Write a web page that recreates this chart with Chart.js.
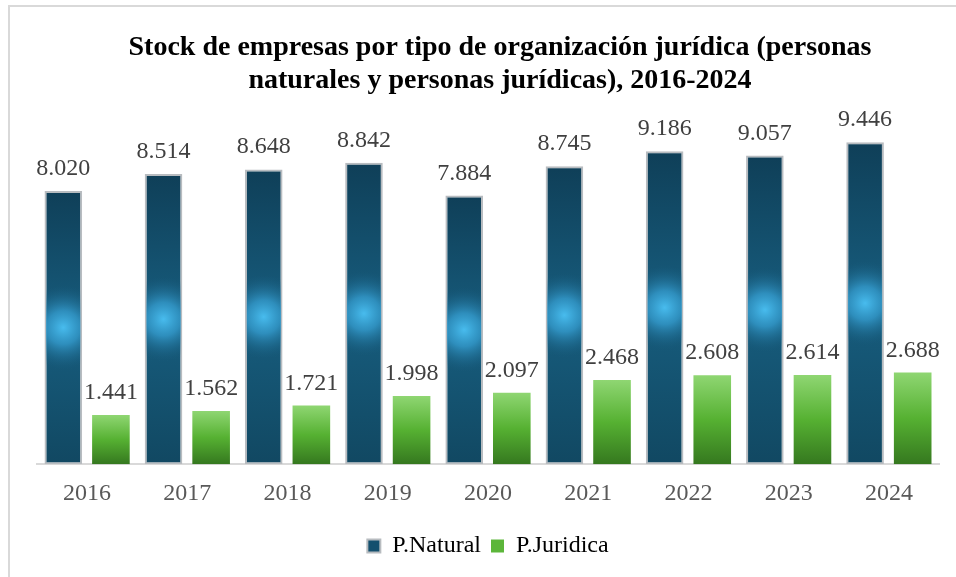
<!DOCTYPE html>
<html>
<head>
<meta charset="utf-8">
<script src="https://cdn.jsdelivr.net/npm/chart.js@4/dist/chart.umd.min.js"></script>
<style>
  html, body { margin: 0; padding: 0; background: #fff; overflow: hidden; }
  #frame { position: absolute; left: 8px; top: 5px; width: 2000px; height: 2000px;
           border-left: 2px solid #d9d9d9; border-top: 2px solid #d9d9d9; }
  #wrap { position: absolute; left: 0; top: 0; width: 956px; height: 577px; }
</style>
</head>
<body>
<div id="frame"></div>
<div id="wrap"><canvas id="stockChart" width="956" height="577"></canvas></div>
<script>
const years = ['2016', '2017', '2018', '2019', '2020', '2021', '2022', '2023', '2024'];
const personaNatural = [8020, 8514, 8648, 8842, 7884, 8745, 9186, 9057, 9446];
const personaJuridica = [1441, 1562, 1721, 1998, 2097, 2468, 2608, 2614, 2688];
const seriesNames = ['P.Natural', 'P.Juridica'];

const serif = '"Liberation Serif", "Times New Roman", serif';

function fmt(v) {
    return String(v).replace(/\B(?=(\d{3})+(?!\d))/g, '.');
}

// vertical gradient per bar, from bar top to the baseline
function barGradient(stops) {
    return function(ctx) {
        const chart = ctx.chart;
        const y = chart.scales.y;
        if (!chart.chartArea || !y || ctx.raw == null) return stops[1][1];
        const top = y.getPixelForValue(ctx.raw);
        const base = y.getPixelForValue(0);
        const g = chart.ctx.createLinearGradient(0, top, 0, base);
        stops.forEach(s => g.addColorStop(s[0], s[1]));
        return g;
    };
}

// light-blue glow in the middle of the blue bars
const glowPlugin = {
    id: 'glow',
    afterDatasetDraw(chart, args) {
        if (args.index !== 0) return;
        const ctx = chart.ctx;
        args.meta.data.forEach(bar => {
            const p = bar.getProps(['x', 'y', 'base', 'width'], true);
            const left = p.x - p.width / 2 + 1.5;
            const w = p.width - 3;
            const cy = (p.y + p.base) / 2;
            ctx.save();
            ctx.beginPath();
            ctx.rect(left, p.y + 1.5, w, p.base - p.y - 1.5);
            ctx.clip();
            const g = ctx.createRadialGradient(p.x, cy, 0, p.x, cy, 42);
            g.addColorStop(0, 'rgba(72,188,238,1)');
            g.addColorStop(0.4, 'rgba(52,155,205,0.8)');
            g.addColorStop(1, 'rgba(25,95,130,0)');
            ctx.fillStyle = g;
            ctx.fillRect(left, cy - 44, w, 88);
            ctx.restore();
        });
    }
};

// value labels above each bar
const valueLabels = {
    id: 'valueLabels',
    afterDatasetsDraw(chart) {
        const ctx = chart.ctx;
        ctx.save();
        ctx.font = '24px ' + serif;
        ctx.fillStyle = '#404040';
        ctx.textAlign = 'center';
        ctx.textBaseline = 'alphabetic';
        chart.data.datasets.forEach((ds, i) => {
            chart.getDatasetMeta(i).data.forEach((bar, j) => {
                ctx.fillText(fmt(ds.data[j]), bar.x, bar.y - 16);
            });
        });
        ctx.restore();
    }
};

// shift title so it sits where the original one does
const titleShift = {
    id: 'titleShift',
    afterLayout(chart) {
        chart.titleBlock.left += 12;
        chart.titleBlock.right += 12;
    }
};

new Chart(document.getElementById('stockChart'), {
    type: 'bar',
    data: {
        labels: years,
        datasets: [
            {
                label: seriesNames[0],
                data: personaNatural,
                backgroundColor: barGradient([[0, '#0f3f58'], [0.5, '#175d7e'], [1, '#114862']]),
                borderColor: '#b8bcc0',
                borderWidth: 2,
                borderSkipped: false
            },
            {
                label: seriesNames[1],
                data: personaJuridica,
                backgroundColor: barGradient([[0, '#8fd672'], [0.5, '#56b132'], [1, '#35781f']]),
                borderWidth: 0
            }
        ]
    },
    options: {
        responsive: false,
        animation: false,
        layout: { padding: { left: 37, right: 17, top: 0, bottom: 9 } },
        datasets: {
            bar: { categoryPercentage: 0.95, barPercentage: 0.79 }
        },
        scales: {
            x: {
                grid: { display: false },
                border: { display: true, color: '#d9d9d9', width: 2 },
                ticks: { color: '#595959', font: { family: serif, size: 24 }, padding: 7 },
                afterFit(scale) { scale.height += 9; }
            },
            y: {
                display: false,
                min: 0,
                max: 10000
            }
        },
        plugins: {
            title: {
                display: true,
                text: ['Stock de empresas por tipo de organización jurídica (personas',
                       'naturales y personas jurídicas), 2016-2024'],
                color: '#000',
                font: { family: serif, size: 28, weight: 'bold', lineHeight: 1.15 },
                padding: { top: 32, bottom: 27 }
            },
            legend: {
                position: 'bottom',
                labels: {
                    color: '#595959',
                    font: { family: serif, size: 24 },
                    boxWidth: 13,
                    boxHeight: 13,
                    padding: 10,
                    generateLabels(chart) {
                        return [
                            { text: seriesNames[0], fillStyle: '#14506e', strokeStyle: '#b8bcc0', lineWidth: 2, datasetIndex: 0 },
                            { text: seriesNames[1], fillStyle: '#5cb63a', strokeStyle: '#5cb63a', lineWidth: 0, datasetIndex: 1 }
                        ];
                    }
                }
            },
            tooltip: { enabled: false }
        }
    },
    plugins: [glowPlugin, valueLabels, titleShift]
});
</script>
</body>
</html>
